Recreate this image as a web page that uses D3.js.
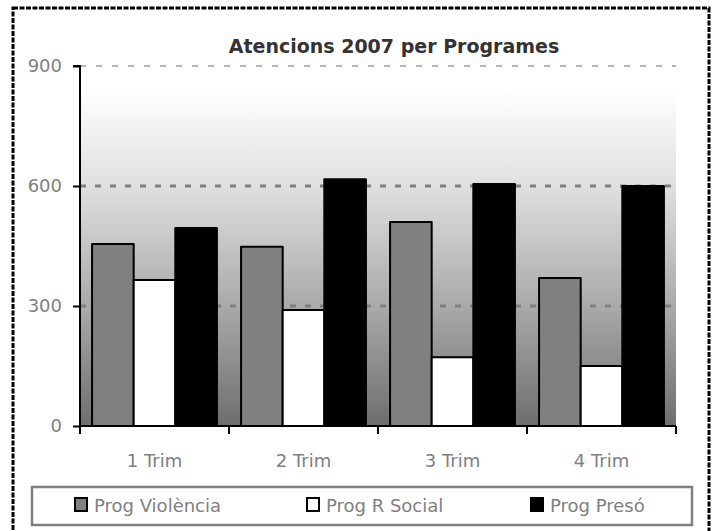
<!DOCTYPE html>
<html><head><meta charset="utf-8">
<script src="https://cdn.jsdelivr.net/npm/d3@7"></script>
<style>html,body{margin:0;padding:0;background:#fff;}svg{display:block;}</style>
</head><body>
<script>
const categories = ["1 Trim", "2 Trim", "3 Trim", "4 Trim"];
const seriesNames = ["Prog Violència", "Prog R Social", "Prog Presó"];
const violencia = [455, 448, 510, 370];
const rSocial = [365, 290, 172, 150];
const preso = [495, 617, 605, 600];
const yTicks = [0, 300, 600, 900];
const seriesColors = ["#808080", "#ffffff", "#000000"];

const W = 714, H = 531;
const m = {left: 80, right: 676, top: 66, bottom: 426};
const font = "DejaVu Sans, Verdana, sans-serif";

const svg = d3.select("body").append("svg").attr("width", W).attr("height", H);
const defs = svg.append("defs");
const grad = defs.append("linearGradient").attr("id", "bg").attr("x1", 0).attr("y1", 0).attr("x2", 0).attr("y2", 1);
[[0, "#ffffff"], [0.06, "#ffffff"], [0.33, "#e0e0e0"], [0.67, "#a9a9a9"], [1, "#6e6e6e"]]
  .forEach(([o, c]) => grad.append("stop").attr("offset", o).attr("stop-color", c));

// outer dashed border
svg.append("rect").attr("x", 13).attr("y", 8).attr("width", 696).attr("height", 540)
  .attr("fill", "none").attr("stroke", "#000").attr("stroke-width", 3).attr("stroke-dasharray", "5,1.5");

const x0 = d3.scaleBand().domain(categories).range([m.left, m.right]).paddingInner(0).paddingOuter(0);
const x1 = d3.scaleBand().domain(seriesNames).range([0, x0.bandwidth()]).paddingInner(0).paddingOuter(0.29);
const y = d3.scaleLinear().domain([0, 900]).range([m.bottom, m.top]);

// plot background
svg.append("rect").attr("x", m.left).attr("y", y(900)).attr("width", m.right - m.left)
  .attr("height", y(0) - y(900)).attr("fill", "url(#bg)");

// gridlines
yTicks.filter(t => t > 0).forEach(t => {
  const top = t === 900;
  svg.append("line").attr("x1", m.left).attr("x2", m.right).attr("y1", y(t)).attr("y2", y(t))
    .attr("stroke", top ? "#9a9a9a" : "#808080")
    .attr("stroke-width", top ? 1.5 : 3)
    .attr("stroke-dasharray", top ? "6,10" : "6,9");
});

// bars
const data = [violencia, rSocial, preso];
categories.forEach((c, i) => {
  seriesNames.forEach((s, j) => {
    const v = data[j][i];
    svg.append("rect")
      .attr("x", x0(c) + x1(s))
      .attr("y", y(v))
      .attr("width", x1.bandwidth())
      .attr("height", y(0) - y(v))
      .attr("fill", seriesColors[j])
      .attr("stroke", "#000").attr("stroke-width", 2).attr("stroke-linejoin", "round");
  });
});

// y axis
const yAxis = d3.axisLeft(y).tickValues(yTicks).tickSize(7).tickPadding(11).tickFormat(d3.format("d"));
const ya = svg.append("g").attr("transform", `translate(${m.left},0)`).call(yAxis);
ya.select(".domain").attr("stroke", "#000").attr("stroke-width", 2).attr("d", `M-7,${m.top}H0V${m.bottom + 8}`);
ya.selectAll(".tick line").attr("stroke", "#000").attr("stroke-width", 2);
ya.selectAll(".tick text").attr("fill", "#808080").style("font-family", font).style("font-size", "18px");

// x axis
const xEdges = categories.map(c => x0(c)).concat([m.right]);
const xa = svg.append("g").attr("transform", `translate(0,${m.bottom})`);
xa.append("line").attr("x1", m.left).attr("x2", m.right).attr("y1", 0).attr("y2", 0)
  .attr("stroke", "#000").attr("stroke-width", 2);
xa.selectAll("line.tk").data(xEdges).enter().append("line").attr("class", "tk")
  .attr("x1", d => d).attr("x2", d => d).attr("y1", 0).attr("y2", 8)
  .attr("stroke", "#000").attr("stroke-width", 2);
xa.selectAll("text").data(categories).enter().append("text")
  .attr("x", d => x0(d) + x0.bandwidth() / 2).attr("y", 41)
  .attr("text-anchor", "middle").attr("fill", "#808080")
  .style("font-family", font).style("font-size", "18px").text(d => d);

// title
svg.append("text").attr("x", 394).attr("y", 53).attr("text-anchor", "middle")
  .attr("fill", "#333").style("font-family", font).style("font-weight", "bold").style("font-size", "19px")
  .text("Atencions 2007 per Programes");

// legend
svg.append("rect").attr("x", 32).attr("y", 487).attr("width", 660).attr("height", 38)
  .attr("fill", "#fff").attr("stroke", "#808080").attr("stroke-width", 2.5);
const legX = [74, 306, 530];
seriesNames.forEach((s, j) => {
  svg.append("rect").attr("x", legX[j] + 1).attr("y", 498).attr("width", 12).attr("height", 13)
    .attr("fill", seriesColors[j]).attr("stroke", "#000").attr("stroke-width", 2);
  svg.append("text").attr("x", legX[j] + 20).attr("y", 512).attr("fill", "#808080")
    .style("font-family", font).style("font-size", "18px").text(s);
});
</script>
</body></html>
